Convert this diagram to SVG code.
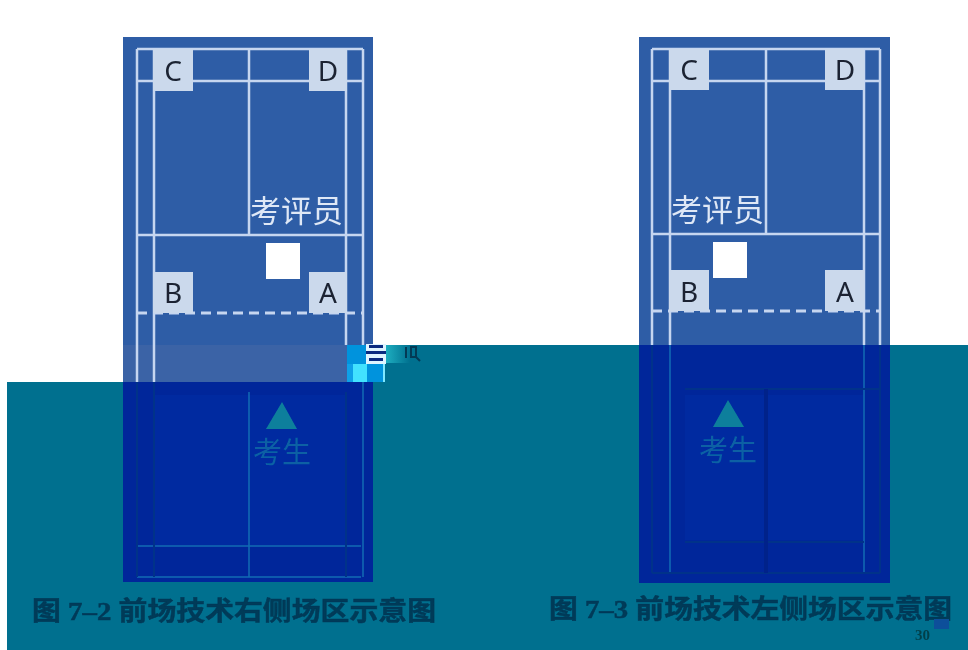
<svg xmlns="http://www.w3.org/2000/svg" width="968" height="650" viewBox="0 0 968 650">
<style>
.court{fill:#2e5da6}
.courtlow{fill:#02259a}
.inner{fill:#032ba0}
.ln{stroke:#c6d6f0;stroke-width:2.5;fill:none}
.dash{stroke:#c6d6f0;stroke-width:3;stroke-dasharray:10 6;fill:none}
.lo{stroke:#0b6cb4;stroke-width:1.5;fill:none}
.dk{stroke:#05328a;stroke-width:2;fill:none}
.box{fill:#cbd9ec}
.sq{fill:#fff}
.tri{fill:#0b7f9c}
.ltr{font:28px "Noto Sans","Liberation Sans",sans-serif;fill:#1a2433;text-anchor:middle}
.zh{font:31px "Noto Sans CJK SC",sans-serif;fill:#dfe8f6}
.st{font:29px "Noto Sans CJK SC",sans-serif;fill:#0a74a6;opacity:.75}
.cap{font:bold 26px "Liberation Serif","Noto Sans CJK SC",serif;fill:#033a58;stroke:#033a58;stroke-width:.5}
.soft{filter:url(#b)}
</style>
<defs>
<filter id="b" x="-5%" y="-5%" width="110%" height="110%"><feGaussianBlur stdDeviation="0.5"/></filter>
<linearGradient id="fade" x1="0" x2="1" y1="0" y2="0"><stop offset="0" stop-color="#1fb0c2"/><stop offset="1" stop-color="#00708f"/></linearGradient>
</defs>
<rect width="968" height="650" fill="#fff"/>
<path d="M7 382H347V345H968V650H7Z" fill="#00708f"/>
<g id="court-left" class="soft">
<rect class="court" x="123" y="37" width="250" height="345"/>
<rect x="123" y="345" width="224" height="37" fill="#3a63a6"/>
<rect class="courtlow" x="123" y="382" width="250" height="200"/>
<rect class="inner" x="155" y="395" width="190" height="150"/>
<path class="ln" d="M137 49H363M137 81H363M137 235H363M137 49V382M154 49V382M249 49V235M346 49V345M363 49V345"/>
<path class="dash" d="M137 313H363"/>
<path class="lo" d="M137 546H361M137 577H361M249 392V577M363 382V577"/>
<path class="dk" d="M346 392V577M137 382V577M154 382V577"/>
<rect class="box" x="153" y="49" width="40" height="42"/>
<rect class="box" x="309" y="49" width="38" height="42"/>
<rect class="box" x="153" y="272" width="40" height="41"/>
<rect class="box" x="309" y="272" width="38" height="41"/>
<text class="ltr" x="173" y="81">C</text>
<text class="ltr" x="328" y="81">D</text>
<text class="ltr" x="173" y="303">B</text>
<text class="ltr" x="328" y="303">A</text>
<text class="zh" x="250" y="222" textLength="93">考评员</text>
<rect class="sq" x="266" y="243" width="34" height="36"/>
<path class="tri" d="M282 402L297 429H266Z"/>
<text class="st" x="253" y="463">考生</text>
</g>
<g id="noise">
<rect x="347" y="345" width="38" height="19" fill="#0093dd"/>
<rect x="347" y="364" width="6" height="18" fill="#0ea0e8"/>
<rect x="353" y="364" width="14" height="18" fill="#42e2ff"/>
<rect x="367" y="364" width="16" height="18" fill="#0093dd"/>
<rect x="383" y="364" width="2" height="18" fill="#7fe8ff"/>
<rect x="385" y="345" width="25" height="18" fill="url(#fade)"/>
<rect x="366" y="344" width="20" height="20" fill="#dff4ff"/>
<rect x="369" y="345" width="14" height="3" fill="#0a2a80"/>
<rect x="366" y="351" width="20" height="3" fill="#0a2a80"/>
<rect x="369" y="358" width="14" height="3" fill="#0a2a80"/>
<path d="M406 347v11M411 347h5v10h-5zM416 357l4 4" stroke="#033a55" stroke-width="2" fill="none"/>
</g>
<g id="court-right" class="soft">
<rect class="court" x="639" y="37" width="251" height="308"/>
<rect class="courtlow" x="639" y="345" width="251" height="238"/>
<rect class="inner" x="685" y="395" width="178" height="145"/>
<path class="ln" d="M652 49H880M652 81H880M652 234H880M652 49V345M670 49V345M766 49V234M864 49V345M880 49V345"/>
<path class="dash" d="M652 311H880"/>
<path class="lo" d="M670 345V572M864 345V572"/>
<path class="dk" d="M685 389H880M685 542H864M652 573H880M652 345V573M880 345V573"/>
<path d="M766 389V573" stroke="#02238a" stroke-width="4" fill="none"/>
<rect class="box" x="669" y="49" width="40" height="41"/>
<rect class="box" x="825" y="49" width="39" height="41"/>
<rect class="box" x="669" y="270" width="40" height="41"/>
<rect class="box" x="825" y="270" width="39" height="41"/>
<text class="ltr" x="689" y="80">C</text>
<text class="ltr" x="845" y="80">D</text>
<text class="ltr" x="689" y="302">B</text>
<text class="ltr" x="845" y="302">A</text>
<text class="zh" x="671" y="221" textLength="93">考评员</text>
<rect class="sq" x="713" y="242" width="34" height="36"/>
<path class="tri" d="M728 400L744 427H713Z"/>
<text class="st" x="699" y="461">考生</text>
</g>
<g id="captions" class="soft">
<text class="cap" x="32" y="620" textLength="404" lengthAdjust="spacingAndGlyphs">图 7–2 前场技术右侧场区示意图</text>
<text class="cap" x="549" y="618" textLength="403" lengthAdjust="spacingAndGlyphs">图 7–3 前场技术左侧场区示意图</text>
<rect x="934" y="619" width="15" height="10" fill="#0d4f9a"/>
<text x="915" y="640" font-family="Liberation Serif,serif" font-weight="bold" font-size="15" fill="#053f4a">30</text>
</g>
</svg>
